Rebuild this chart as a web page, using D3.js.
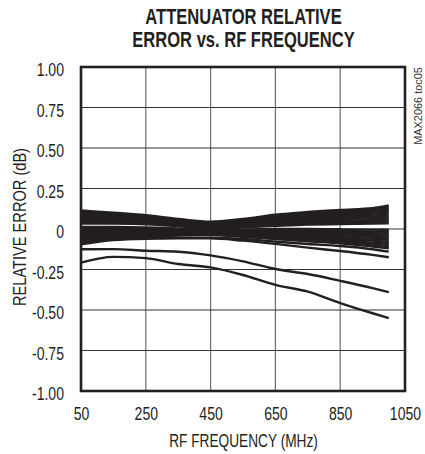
<!DOCTYPE html>
<html>
<head>
<meta charset="utf-8">
<script src="https://cdn.jsdelivr.net/npm/d3@7"></script>
<style>
  html, body { margin: 0; padding: 0; background: #fff; }
  svg { display: block; }
  text { font-family: "Liberation Sans", Arial, sans-serif; }
</style>
</head>
<body>
<svg id="chart" width="425" height="454"></svg>
<script>
// Frequencies (MHz) at which each curve is sampled
const freqs = [50, 150, 250, 350, 450, 550, 650, 750, 850, 950, 1000];

// Upper fan of curves (rising above 450MHz)
const upperA1  = [0.115, 0.100, 0.085, 0.062, 0.045, 0.062, 0.088, 0.105, 0.118, 0.128, 0.145];
const upperA2  = [0.106, 0.093, 0.079, 0.058, 0.040, 0.057, 0.080, 0.098, 0.110, 0.120, 0.131];
const upperA3  = [0.097, 0.086, 0.073, 0.053, 0.036, 0.050, 0.073, 0.090, 0.102, 0.110, 0.120];
const upperA4  = [0.088, 0.078, 0.066, 0.048, 0.031, 0.044, 0.065, 0.081, 0.092, 0.100, 0.108];
const upperA5  = [0.079, 0.071, 0.060, 0.043, 0.026, 0.038, 0.057, 0.072, 0.082, 0.089, 0.095];
const upperA6  = [0.070, 0.064, 0.054, 0.038, 0.021, 0.032, 0.049, 0.063, 0.072, 0.078, 0.083];
const upperA7  = [0.061, 0.056, 0.048, 0.033, 0.016, 0.026, 0.041, 0.053, 0.062, 0.067, 0.071];
const upperA8  = [0.052, 0.049, 0.042, 0.028, 0.011, 0.020, 0.033, 0.044, 0.051, 0.055, 0.058];
const upperA9  = [0.043, 0.041, 0.036, 0.023, 0.006, 0.014, 0.025, 0.034, 0.040, 0.043, 0.046];
const upperA10 = [0.034, 0.033, 0.029, 0.018, 0.003, 0.010, 0.019, 0.027, 0.031, 0.033, 0.035];

// Lower fan of curves (falling above 450MHz)
const lowerB1  = [0.012, 0.012, 0.009, 0.004, 0.000, -0.003, 0.000, 0.000, -0.002, -0.004, -0.005];
const lowerB2  = [0.004, 0.004, 0.002, -0.002, -0.004, -0.008, -0.007, -0.009, -0.012, -0.015, -0.017];
const lowerB3  = [-0.004, -0.004, -0.005, -0.007, -0.008, -0.013, -0.014, -0.017, -0.021, -0.026, -0.029];
const lowerB4  = [-0.012, -0.011, -0.011, -0.012, -0.012, -0.018, -0.021, -0.026, -0.031, -0.037, -0.042];
const lowerB5  = [-0.021, -0.019, -0.018, -0.017, -0.016, -0.023, -0.028, -0.034, -0.040, -0.048, -0.054];
const lowerB6  = [-0.030, -0.026, -0.024, -0.022, -0.020, -0.028, -0.035, -0.042, -0.050, -0.060, -0.066];
const lowerB7  = [-0.040, -0.034, -0.030, -0.027, -0.024, -0.033, -0.042, -0.051, -0.060, -0.072, -0.080];
const lowerB8  = [-0.050, -0.043, -0.037, -0.032, -0.028, -0.038, -0.049, -0.060, -0.070, -0.084, -0.093];
const lowerB9  = [-0.060, -0.051, -0.043, -0.036, -0.033, -0.043, -0.056, -0.069, -0.079, -0.096, -0.106];
const lowerB10 = [-0.068, -0.058, -0.049, -0.041, -0.037, -0.048, -0.062, -0.076, -0.088, -0.108, -0.119];

// Curves peeling away below the main bundle
const sideE1 = [-0.085, -0.060, -0.055, -0.055, -0.054, -0.062, -0.078, -0.093, -0.105, -0.125, -0.140];
const sideE2 = [-0.095, -0.068, -0.060, -0.058, -0.058, -0.072, -0.092, -0.115, -0.136, -0.160, -0.174];
const lowC2  = [-0.125, -0.124, -0.134, -0.140, -0.163, -0.200, -0.247, -0.278, -0.320, -0.365, -0.390];
const lowC1  = [-0.208, -0.172, -0.180, -0.216, -0.237, -0.284, -0.345, -0.387, -0.457, -0.520, -0.550];

const allSeries = [
  upperA1, upperA2, upperA3, upperA4, upperA5, upperA6, upperA7, upperA8, upperA9, upperA10,
  lowerB1, lowerB2, lowerB3, lowerB4, lowerB5, lowerB6, lowerB7, lowerB8, lowerB9, lowerB10,
  sideE1, sideE2, lowC2, lowC1
];

// Axis ticks and labels
const xTicks = [50, 250, 450, 650, 850, 1050];
const yTicks = [1, 0.75, 0.5, 0.25, 0, -0.25, -0.5, -0.75, -1];
const yTickLabels = ["1.00", "0.75", "0.50", "0.25", "0", "-0.25", "-0.50", "-0.75", "-1.00"];

const titleLines = ["ATTENUATOR RELATIVE", "ERROR vs. RF FREQUENCY"];
const xTitle = "RF FREQUENCY (MHz)";
const yTitle = "RELATIVE ERROR (dB)";
const tocLabel = "MAX2066 toc05";

const plot = { left: 81, right: 405, top: 67, bottom: 391 };
const INK = "#231f20";
const NARROW = 0.76;   // horizontal squeeze for the condensed lettering

const svg = d3.select("#chart");

const x = d3.scaleLinear().domain([50, 1050]).range([plot.left, plot.right]);
const y = d3.scaleLinear().domain([-1, 1]).range([plot.bottom, plot.top]);

// Places a condensed text string at (px, py), optionally rotated
function label(str, px, py, opts = {}) {
  const g = svg.append("g")
    .attr("transform", `translate(${px},${py}) rotate(${opts.rotate || 0}) scale(${opts.squeeze || NARROW},1)`);
  return g.append("text")
    .attr("text-anchor", opts.anchor || "middle")
    .attr("font-size", opts.size || 18.5)
    .attr("font-weight", opts.weight || "normal")
    .attr("fill", opts.fill || INK)
    .text(str);
}

// Title
titleLines.forEach((t, i) => label(t, 243.5, 23.5 + i * 23.2, { size: 21.5, weight: "bold", squeeze: 0.77 }));

// Grid
const grid = svg.append("g");
grid.selectAll("line.v")
  .data(xTicks.slice(1, -1))
  .join("line")
  .attr("class", "v")
  .attr("x1", d => x(d)).attr("x2", d => x(d))
  .attr("y1", plot.top).attr("y2", plot.bottom)
  .attr("stroke", "#6d6d6d").attr("stroke-width", 1.2);
grid.selectAll("line.h")
  .data(yTicks.slice(1, -1))
  .join("line")
  .attr("class", "h")
  .attr("x1", plot.left).attr("x2", plot.right)
  .attr("y1", d => y(d)).attr("y2", d => y(d))
  .attr("stroke", "#333").attr("stroke-width", 1.1);

// Data curves
const line = d3.line()
  .x((d, i) => x(freqs[i]))
  .y(d => y(d))
  .curve(d3.curveMonotoneX);

svg.append("g")
  .selectAll("path")
  .data(allSeries)
  .join("path")
  .attr("d", line)
  .attr("fill", "none")
  .attr("stroke", INK)
  .attr("stroke-width", 2.4)
  .attr("stroke-linejoin", "round");

// Frame
svg.append("rect")
  .attr("x", plot.left).attr("y", plot.top)
  .attr("width", plot.right - plot.left)
  .attr("height", plot.bottom - plot.top)
  .attr("fill", "none")
  .attr("stroke", INK)
  .attr("stroke-width", 2.6);

// Axis labels (frame and grid are drawn separately)
const yAxis = d3.axisLeft(y)
  .tickValues(yTicks)
  .tickSize(0)
  .tickPadding(0)
  .tickFormat((d, i) => yTickLabels[i]);
const gy = svg.append("g")
  .attr("transform", `translate(${plot.left - 17},0)`)
  .call(yAxis);
gy.select(".domain").remove();
gy.selectAll("text")
  .attr("font-size", 18.5)
  .attr("fill", INK)
  .attr("x", 0)
  .attr("dy", "0.36em")
  .attr("transform", `translate(0,2) scale(${NARROW},1)`);

const xAxis = d3.axisBottom(x)
  .tickValues(xTicks)
  .tickSize(0)
  .tickPadding(0)
  .tickFormat(d3.format("d"));
const gx = svg.append("g")
  .attr("transform", `translate(0,${plot.bottom})`)
  .call(xAxis);
gx.select(".domain").remove();
gx.selectAll("text")
  .attr("font-size", 18.5)
  .attr("fill", INK)
  .attr("dy", null)
  .attr("y", 29.5)
  .attr("transform", `scale(${NARROW},1)`);

// Axis titles
label(xTitle, 243.5, 446.5, { squeeze: 0.74 });
label(yTitle, 26, 227, { rotate: -90, squeeze: 0.79 });

// Figure reference tag
label(tocLabel, 422, 106, { rotate: -90, size: 11.5, squeeze: 0.95, fill: "#333" });
</script>
</body>
</html>
